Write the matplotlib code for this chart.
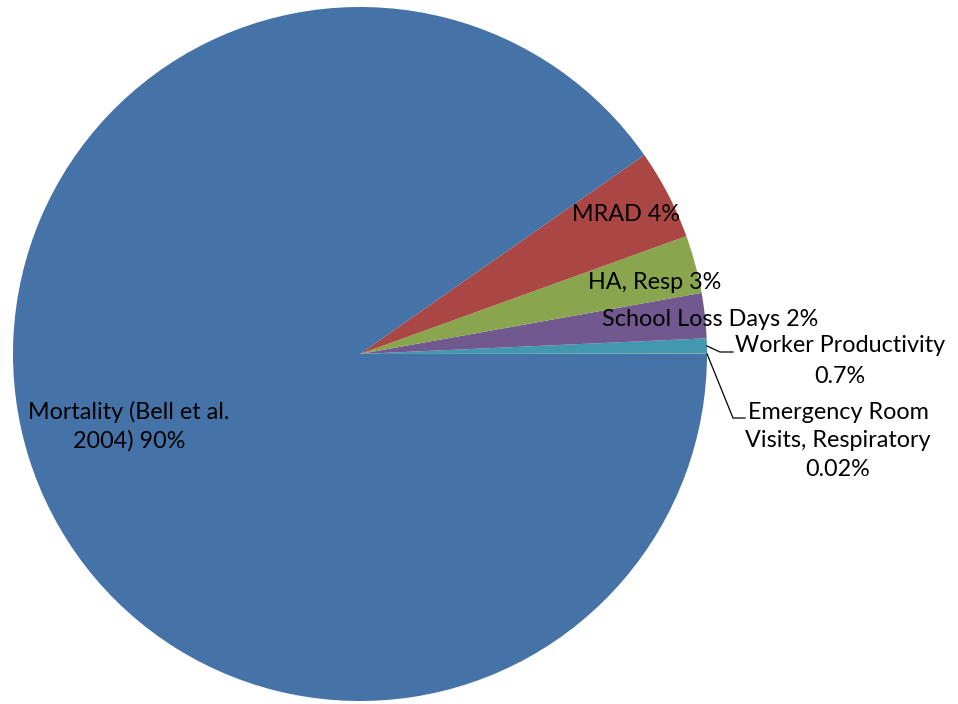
import numpy as np
import matplotlib
matplotlib.use("Agg")
import matplotlib.pyplot as plt

# benefit categories, counter-clockwise from 3 o'clock
categories = ["Emergency Room\nVisits, Respiratory", "Worker Productivity", "School Loss Days",
              "HA, Resp", "MRAD", "Mortality (Bell et al.\n2004)"]
shares = [0.02, 0.7, 2.1, 2.7, 4.2, 90.3]
pct_labels = ["0.02%", "0.7%", "2%", "3%", "4%", "90%"]
colors = ["#DB843D", "#4198AF", "#71588F", "#89A54E", "#AA4643", "#4572A7"]

W, H = 958, 704
cx, cy, R = 360, 354, 347

plt.rcParams['font.family'] = ['Lato', 'DejaVu Sans']

fig = plt.figure(figsize=(W / 100, H / 100), dpi=100)
ax = fig.add_axes([(cx - R) / W, (H - cy - R) / H, 2 * R / W, 2 * R / H])
wedges, _ = ax.pie(shares, colors=colors, startangle=0, counterclock=True, radius=1,
                   wedgeprops=dict(linewidth=0))
ax.set_xlim(-1, 1)
ax.set_ylim(-1, 1)
ax.set_aspect('equal')
ax.axis('off')


def px(x, y):
    # pixel position -> data coords
    return (x - cx) / R, (cy - y) / R


fs = 16.8
# labels inside / next to the wedges
inside = {
    5: (129, 426, 1.4),
    4: (626, 215, 1.4),
    3: (655, 283, 1.4),
    2: (710, 320, 1.4),
}
for i, (x, y, ls) in inside.items():
    tx, ty = px(x, y)
    txt = categories[i] + " " + pct_labels[i]
    ax.text(tx, ty, txt, ha="center", va="center", fontsize=fs, linespacing=ls)

# outside labels with leader lines
outside = {
    1: (840, 361, 720, 352, 733, 1.55),
    0: (838, 441, 733, 418, 745, 1.45),
}
for i, (x, y, kx, ky, ex, ls) in outside.items():
    w = wedges[i]
    mid = np.deg2rad((w.theta1 + w.theta2) / 2)
    sx, sy = np.cos(mid), np.sin(mid)
    k = px(kx, ky)
    e = px(ex, ky)
    ax.plot([sx, k[0], e[0]], [sy, k[1], e[1]], color="black", lw=0.9, clip_on=False)
    tx, ty = px(x, y)
    ax.text(tx, ty, categories[i] + "\n" + pct_labels[i], ha="center", va="center",
            fontsize=fs, linespacing=ls)

fig.savefig("out.png", dpi=100)
